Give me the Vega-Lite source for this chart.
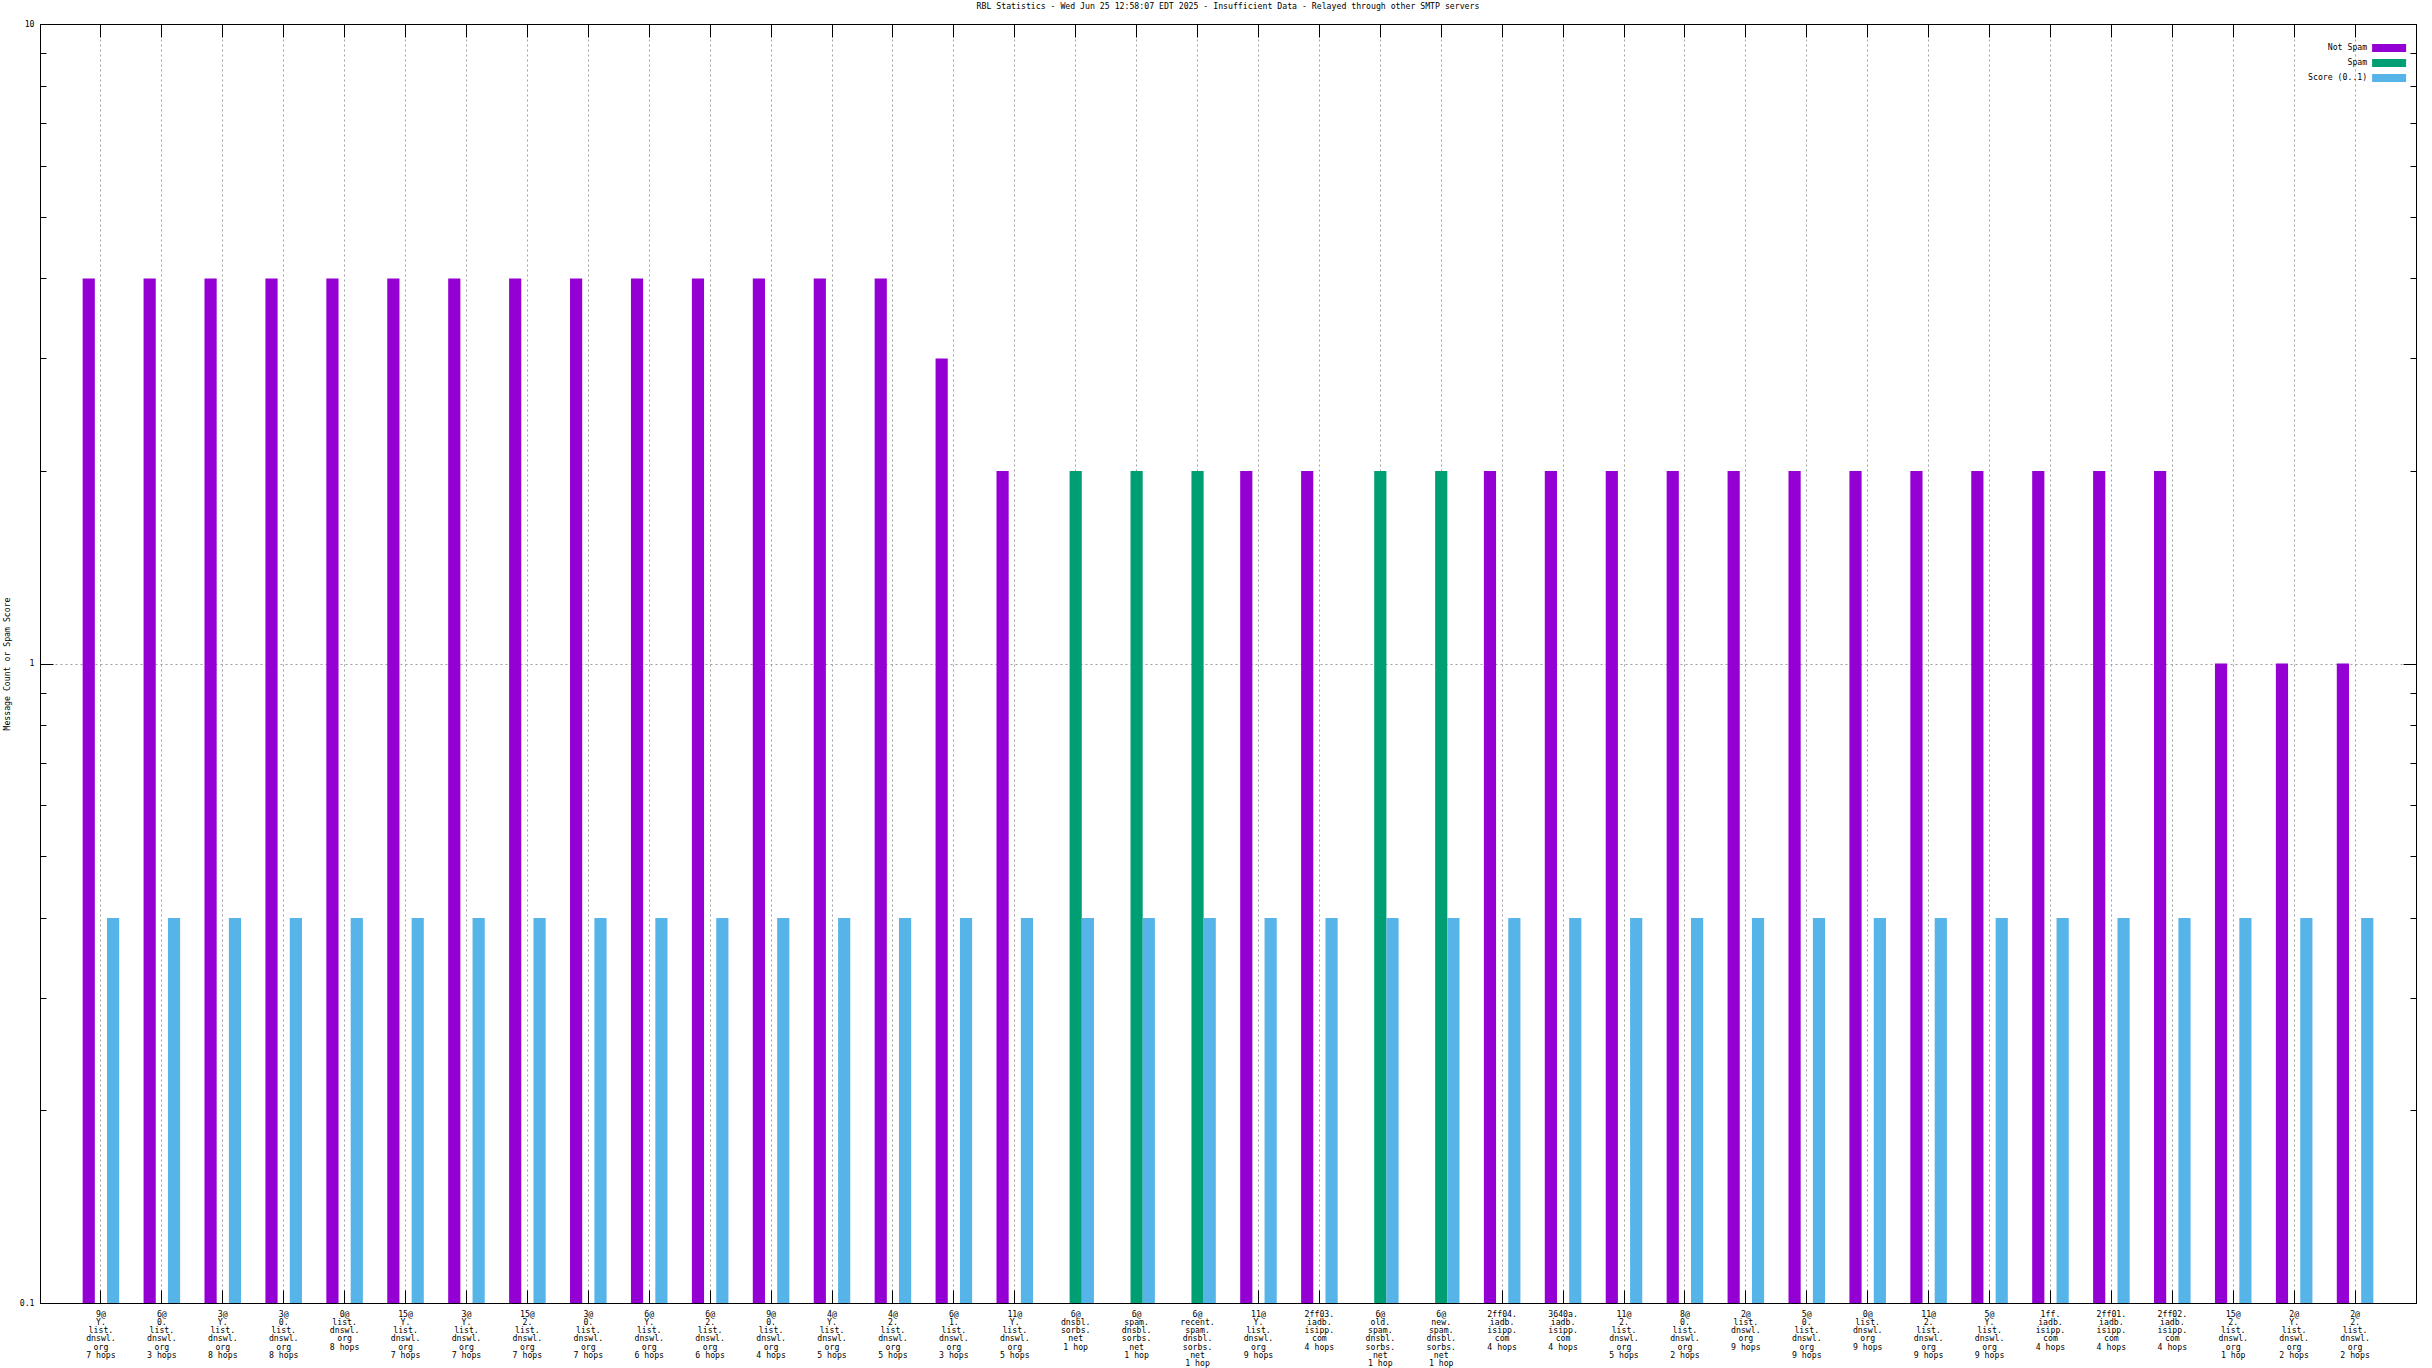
{
  "$schema": "https://vega.github.io/schema/vega-lite/v6.json",
  "autosize": {"type": "none"},
  "padding": {"left": 40, "top": 24, "right": 16, "bottom": 65},
  "width": 2376,
  "height": 1279,
  "background": "white",
  "title": {"text": "RBL Statistics - Wed Jun 25 12:58:07 EDT 2025 - Insufficient Data - Relayed through other SMTP servers", "font": "DejaVu Sans Mono", "fontSize": 8.2, "fontWeight": "normal", "color": "black", "offset": 8, "anchor": "middle"},
  "config": {
    "view": {"stroke": "black", "strokeWidth": 1},
    "axis": {"labelFont": "DejaVu Sans Mono", "labelFontSize": 8.2, "labelColor": "black", "titleFont": "DejaVu Sans Mono", "titleFontSize": 8.2, "titleFontWeight": "normal", "titleColor": "black", "tickColor": "black", "domainColor": "black", "tickWidth": 1, "domainWidth": 1}
  },
  "data": {"values": [
    {"label": "9@\nY.\nlist.\ndnswl.\norg\n7 hops", "series": "Not Spam", "value": 4},
    {"label": "9@\nY.\nlist.\ndnswl.\norg\n7 hops", "series": "Score (0..1)", "value": 0.4},
    {"label": "6@\n0.\nlist.\ndnswl.\norg\n3 hops", "series": "Not Spam", "value": 4},
    {"label": "6@\n0.\nlist.\ndnswl.\norg\n3 hops", "series": "Score (0..1)", "value": 0.4},
    {"label": "3@\nY.\nlist.\ndnswl.\norg\n8 hops", "series": "Not Spam", "value": 4},
    {"label": "3@\nY.\nlist.\ndnswl.\norg\n8 hops", "series": "Score (0..1)", "value": 0.4},
    {"label": "3@\n0.\nlist.\ndnswl.\norg\n8 hops", "series": "Not Spam", "value": 4},
    {"label": "3@\n0.\nlist.\ndnswl.\norg\n8 hops", "series": "Score (0..1)", "value": 0.4},
    {"label": "0@\nlist.\ndnswl.\norg\n8 hops", "series": "Not Spam", "value": 4},
    {"label": "0@\nlist.\ndnswl.\norg\n8 hops", "series": "Score (0..1)", "value": 0.4},
    {"label": "15@\nY.\nlist.\ndnswl.\norg\n7 hops", "series": "Not Spam", "value": 4},
    {"label": "15@\nY.\nlist.\ndnswl.\norg\n7 hops", "series": "Score (0..1)", "value": 0.4},
    {"label": "3@\nY.\nlist.\ndnswl.\norg\n7 hops", "series": "Not Spam", "value": 4},
    {"label": "3@\nY.\nlist.\ndnswl.\norg\n7 hops", "series": "Score (0..1)", "value": 0.4},
    {"label": "15@\n2.\nlist.\ndnswl.\norg\n7 hops", "series": "Not Spam", "value": 4},
    {"label": "15@\n2.\nlist.\ndnswl.\norg\n7 hops", "series": "Score (0..1)", "value": 0.4},
    {"label": "3@\n0.\nlist.\ndnswl.\norg\n7 hops", "series": "Not Spam", "value": 4},
    {"label": "3@\n0.\nlist.\ndnswl.\norg\n7 hops", "series": "Score (0..1)", "value": 0.4},
    {"label": "6@\nY.\nlist.\ndnswl.\norg\n6 hops", "series": "Not Spam", "value": 4},
    {"label": "6@\nY.\nlist.\ndnswl.\norg\n6 hops", "series": "Score (0..1)", "value": 0.4},
    {"label": "6@\n2.\nlist.\ndnswl.\norg\n6 hops", "series": "Not Spam", "value": 4},
    {"label": "6@\n2.\nlist.\ndnswl.\norg\n6 hops", "series": "Score (0..1)", "value": 0.4},
    {"label": "9@\n0.\nlist.\ndnswl.\norg\n4 hops", "series": "Not Spam", "value": 4},
    {"label": "9@\n0.\nlist.\ndnswl.\norg\n4 hops", "series": "Score (0..1)", "value": 0.4},
    {"label": "4@\nY.\nlist.\ndnswl.\norg\n5 hops", "series": "Not Spam", "value": 4},
    {"label": "4@\nY.\nlist.\ndnswl.\norg\n5 hops", "series": "Score (0..1)", "value": 0.4},
    {"label": "4@\n2.\nlist.\ndnswl.\norg\n5 hops", "series": "Not Spam", "value": 4},
    {"label": "4@\n2.\nlist.\ndnswl.\norg\n5 hops", "series": "Score (0..1)", "value": 0.4},
    {"label": "6@\n1.\nlist.\ndnswl.\norg\n3 hops", "series": "Not Spam", "value": 3},
    {"label": "6@\n1.\nlist.\ndnswl.\norg\n3 hops", "series": "Score (0..1)", "value": 0.4},
    {"label": "11@\nY.\nlist.\ndnswl.\norg\n5 hops", "series": "Not Spam", "value": 2},
    {"label": "11@\nY.\nlist.\ndnswl.\norg\n5 hops", "series": "Score (0..1)", "value": 0.4},
    {"label": "6@\ndnsbl.\nsorbs.\nnet\n1 hop", "series": "Spam", "value": 2},
    {"label": "6@\ndnsbl.\nsorbs.\nnet\n1 hop", "series": "Score (0..1)", "value": 0.4},
    {"label": "6@\nspam.\ndnsbl.\nsorbs.\nnet\n1 hop", "series": "Spam", "value": 2},
    {"label": "6@\nspam.\ndnsbl.\nsorbs.\nnet\n1 hop", "series": "Score (0..1)", "value": 0.4},
    {"label": "6@\nrecent.\nspam.\ndnsbl.\nsorbs.\nnet\n1 hop", "series": "Spam", "value": 2},
    {"label": "6@\nrecent.\nspam.\ndnsbl.\nsorbs.\nnet\n1 hop", "series": "Score (0..1)", "value": 0.4},
    {"label": "11@\nY.\nlist.\ndnswl.\norg\n9 hops", "series": "Not Spam", "value": 2},
    {"label": "11@\nY.\nlist.\ndnswl.\norg\n9 hops", "series": "Score (0..1)", "value": 0.4},
    {"label": "2ff03.\niadb.\nisipp.\ncom\n4 hops", "series": "Not Spam", "value": 2},
    {"label": "2ff03.\niadb.\nisipp.\ncom\n4 hops", "series": "Score (0..1)", "value": 0.4},
    {"label": "6@\nold.\nspam.\ndnsbl.\nsorbs.\nnet\n1 hop", "series": "Spam", "value": 2},
    {"label": "6@\nold.\nspam.\ndnsbl.\nsorbs.\nnet\n1 hop", "series": "Score (0..1)", "value": 0.4},
    {"label": "6@\nnew.\nspam.\ndnsbl.\nsorbs.\nnet\n1 hop", "series": "Spam", "value": 2},
    {"label": "6@\nnew.\nspam.\ndnsbl.\nsorbs.\nnet\n1 hop", "series": "Score (0..1)", "value": 0.4},
    {"label": "2ff04.\niadb.\nisipp.\ncom\n4 hops", "series": "Not Spam", "value": 2},
    {"label": "2ff04.\niadb.\nisipp.\ncom\n4 hops", "series": "Score (0..1)", "value": 0.4},
    {"label": "3640a.\niadb.\nisipp.\ncom\n4 hops", "series": "Not Spam", "value": 2},
    {"label": "3640a.\niadb.\nisipp.\ncom\n4 hops", "series": "Score (0..1)", "value": 0.4},
    {"label": "11@\n2.\nlist.\ndnswl.\norg\n5 hops", "series": "Not Spam", "value": 2},
    {"label": "11@\n2.\nlist.\ndnswl.\norg\n5 hops", "series": "Score (0..1)", "value": 0.4},
    {"label": "8@\n0.\nlist.\ndnswl.\norg\n2 hops", "series": "Not Spam", "value": 2},
    {"label": "8@\n0.\nlist.\ndnswl.\norg\n2 hops", "series": "Score (0..1)", "value": 0.4},
    {"label": "2@\nlist.\ndnswl.\norg\n9 hops", "series": "Not Spam", "value": 2},
    {"label": "2@\nlist.\ndnswl.\norg\n9 hops", "series": "Score (0..1)", "value": 0.4},
    {"label": "5@\n0.\nlist.\ndnswl.\norg\n9 hops", "series": "Not Spam", "value": 2},
    {"label": "5@\n0.\nlist.\ndnswl.\norg\n9 hops", "series": "Score (0..1)", "value": 0.4},
    {"label": "0@\nlist.\ndnswl.\norg\n9 hops", "series": "Not Spam", "value": 2},
    {"label": "0@\nlist.\ndnswl.\norg\n9 hops", "series": "Score (0..1)", "value": 0.4},
    {"label": "11@\n2.\nlist.\ndnswl.\norg\n9 hops", "series": "Not Spam", "value": 2},
    {"label": "11@\n2.\nlist.\ndnswl.\norg\n9 hops", "series": "Score (0..1)", "value": 0.4},
    {"label": "5@\nY.\nlist.\ndnswl.\norg\n9 hops", "series": "Not Spam", "value": 2},
    {"label": "5@\nY.\nlist.\ndnswl.\norg\n9 hops", "series": "Score (0..1)", "value": 0.4},
    {"label": "1ff.\niadb.\nisipp.\ncom\n4 hops", "series": "Not Spam", "value": 2},
    {"label": "1ff.\niadb.\nisipp.\ncom\n4 hops", "series": "Score (0..1)", "value": 0.4},
    {"label": "2ff01.\niadb.\nisipp.\ncom\n4 hops", "series": "Not Spam", "value": 2},
    {"label": "2ff01.\niadb.\nisipp.\ncom\n4 hops", "series": "Score (0..1)", "value": 0.4},
    {"label": "2ff02.\niadb.\nisipp.\ncom\n4 hops", "series": "Not Spam", "value": 2},
    {"label": "2ff02.\niadb.\nisipp.\ncom\n4 hops", "series": "Score (0..1)", "value": 0.4},
    {"label": "15@\n2.\nlist.\ndnswl.\norg\n1 hop", "series": "Not Spam", "value": 1},
    {"label": "15@\n2.\nlist.\ndnswl.\norg\n1 hop", "series": "Score (0..1)", "value": 0.4},
    {"label": "2@\nY.\nlist.\ndnswl.\norg\n2 hops", "series": "Not Spam", "value": 1},
    {"label": "2@\nY.\nlist.\ndnswl.\norg\n2 hops", "series": "Score (0..1)", "value": 0.4},
    {"label": "2@\n2.\nlist.\ndnswl.\norg\n2 hops", "series": "Not Spam", "value": 1},
    {"label": "2@\n2.\nlist.\ndnswl.\norg\n2 hops", "series": "Score (0..1)", "value": 0.4}
  ]},
  "resolve": {"axis": {"x": "independent", "y": "independent"}},
  "layer": [
    {
      "mark": {"type": "bar"},
      "encoding": {
        "x": {"field": "label", "type": "nominal", "sort": null,
          "scale": {"paddingInner": 0, "paddingOuter": 0.5},
          "axis": {"orient": "bottom", "title": null, "bandPosition": 0.5, "labelAngle": 0, "labelAlign": "center", "labelBaseline": "top", "labelLineHeight": 8.3, "labelPadding": 20, "labelOverlap": false, "labelFlush": false, "labelBound": false, "labelExpr": "split(datum.value, '\\n')", "tickSize": -13, "domain": false, "grid": true, "gridColor": "#a0a0a0", "gridDash": [2, 3], "gridWidth": 1, "zindex": 0}},
        "xOffset": {"field": "series", "type": "nominal", "scale": {"domain": ["Not Spam", "Spam", "Score (0..1)"], "paddingInner": 0, "paddingOuter": 1}},
        "y": {"field": "value", "type": "quantitative", "stack": null,
          "scale": {"type": "log", "domain": [0.1, 10], "nice": false},
          "axis": {"orient": "left", "title": "Message Count or Spam Score", "titlePadding": 8, "values": [0.1, 1, 10], "labelExpr": "datum.value < 0.5 ? '0.1' : (datum.value < 5 ? '1' : '10')", "labelPadding": 19, "tickSize": -13, "domain": false, "grid": true, "gridColor": "#a0a0a0", "gridDash": [2, 3], "gridOpacity": {"condition": {"test": "datum.value == 1", "value": 1}, "value": 0}, "zindex": 0}},
        "color": {"field": "series", "type": "nominal",
          "scale": {"domain": ["Not Spam", "Spam", "Score (0..1)"], "range": ["#9400d3", "#009e73", "#56b4e9"]},
          "legend": {"orient": "top-right", "offset": 9, "title": " ", "titleFontSize": 8, "titlePadding": 3, "symbolType": "M-4.25,-1H4.25V1H-4.25Z", "symbolSize": 64, "symbolStrokeWidth": 0, "symbolOpacity": 1, "labelAlign": "right", "labelOffset": -26, "labelFont": "DejaVu Sans Mono", "labelFontSize": 8.2, "labelColor": "black", "rowPadding": 5, "padding": 0}}
      }
    },
    {
      "mark": {"type": "bar", "opacity": 0},
      "encoding": {
        "x": {"field": "label", "type": "nominal", "sort": null,
          "axis": {"orient": "top", "title": null, "bandPosition": 0.5, "labels": false, "tickSize": -13, "domain": true, "grid": false, "zindex": 1}},
        "y": {"field": "value", "type": "quantitative", "stack": null,
          "axis": {"orient": "left", "title": null, "values": [0.2, 0.3, 0.4, 0.5, 0.6, 0.7, 0.8, 0.9, 2, 3, 4, 5, 6, 7, 8, 9], "labels": false, "tickSize": -6, "domain": true, "grid": false, "zindex": 1}}
      }
    },
    {
      "mark": {"type": "bar", "opacity": 0},
      "encoding": {
        "x": {"field": "label", "type": "nominal", "sort": null,
          "axis": {"orient": "bottom", "title": null, "labels": false, "ticks": false, "domain": true, "grid": false, "zindex": 1}},
        "y": {"field": "value", "type": "quantitative", "stack": null,
          "axis": {"orient": "right", "title": null, "values": [0.1, 1, 10], "labels": false, "tickSize": -13, "domain": true, "grid": false, "zindex": 1}}
      }
    },
    {
      "mark": {"type": "bar", "opacity": 0},
      "encoding": {
        "x": {"field": "label", "type": "nominal", "sort": null, "axis": null},
        "y": {"field": "value", "type": "quantitative", "stack": null,
          "axis": {"orient": "right", "title": null, "values": [0.2, 0.3, 0.4, 0.5, 0.6, 0.7, 0.8, 0.9, 2, 3, 4, 5, 6, 7, 8, 9], "labels": false, "tickSize": -6, "domain": false, "grid": false, "zindex": 1}}
      }
    }
  ]
}
